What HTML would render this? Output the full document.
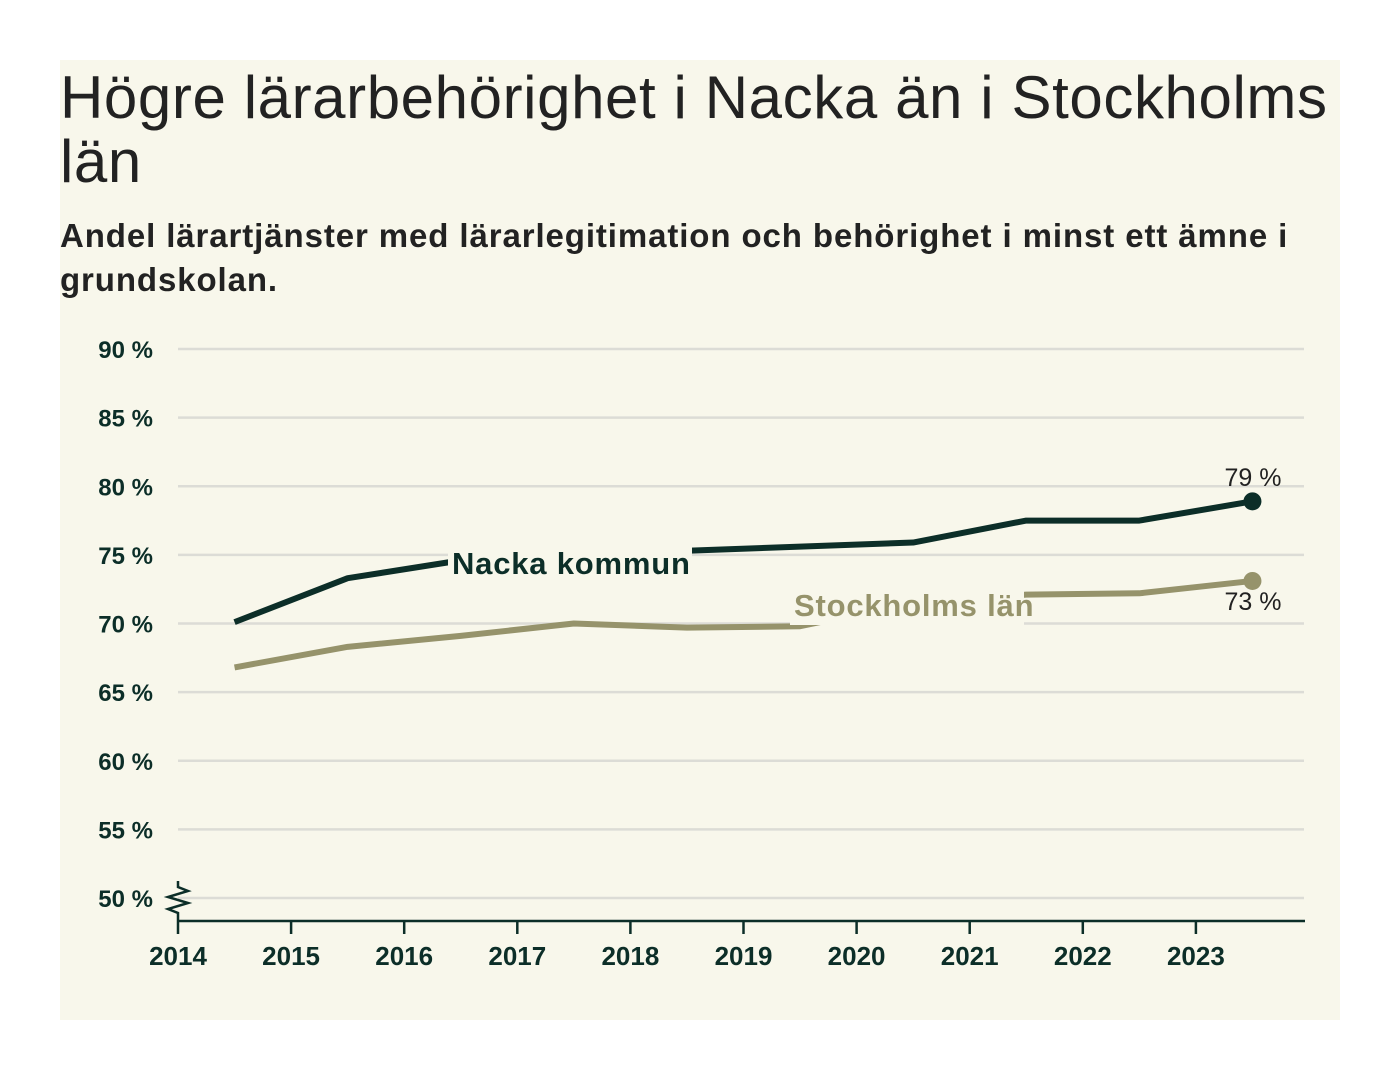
<!DOCTYPE html>
<html><head><meta charset="utf-8"><style>
body{margin:0;background:#fff;width:1400px;height:1080px;position:relative;font-family:"Liberation Sans",sans-serif;}
#panel{position:absolute;left:60px;top:60px;width:1280px;height:960px;background:#f8f7eb;}
h1{position:absolute;left:60px;top:66px;margin:0;font-size:60px;font-weight:normal;line-height:64px;color:#222;width:1290px;letter-spacing:0.6px}
h2{position:absolute;left:60px;top:214px;margin:0;font-size:33px;font-weight:bold;line-height:44px;color:#222;width:1270px;letter-spacing:0.9px}
svg{position:absolute;left:0;top:0}
</style></head><body>
<div id="panel"></div>
<h1>Högre lärarbehörighet i Nacka än i Stockholms län</h1>
<h2>Andel lärartjänster med lärarlegitimation och behörighet i minst ett ämne i grundskolan.</h2>
<svg id="c" width="1400" height="1080"></svg>
<script>
const years=[2014.5,2015.5,2016.5,2017.5,2018.5,2019.5,2020.5,2021.5,2022.5,2023.5];
const nacka=[70.1,73.3,74.6,75.0,75.3,75.6,75.9,77.5,77.5,78.9];
const sthlm=[66.8,68.3,69.1,70.0,69.7,69.8,71.5,72.1,72.2,73.1];
const yTicks=[50,55,60,65,70,75,80,85,90];
const xTicks=[2014,2015,2016,2017,2018,2019,2020,2021,2022,2023];
const NS="http://www.w3.org/2000/svg",svg=document.getElementById('c');
const x=v=>178+(v-2014)*113.1, y=v=>898-(v-50)*13.725;
function mk(t,a,p){const e=document.createElementNS(NS,t);for(const k in a)e.setAttribute(k,a[k]);(p||svg).appendChild(e);return e;}
yTicks.forEach(t=>{
 const g=mk('line',{x1:178,x2:1304,y1:y(t),y2:y(t),stroke:'#dcdcd6','stroke-width':2.5});
 
 
 const l=mk('text',{x:153,y:y(t)+9,'text-anchor':'end','font-size':24,fill:'#0c2e28','font-weight':'bold'});l.textContent=t+' %';
 
 
});
const ax=mk('line',{x1:178,x2:1305,y1:921,y2:921,stroke:'#0c2e28','stroke-width':2.5});


const zz=mk('polyline',{points:'178,881 178,887 188,891 168,897 188,903 168,909 178,913 178,921',fill:'none',stroke:'#0c2e28','stroke-width':2.5});


xTicks.forEach(t=>{
 const tk=mk('line',{x1:x(t),x2:x(t),y1:921,y2:934,stroke:'#0c2e28','stroke-width':2.5});
 
 
 const l=mk('text',{x:x(t),y:965,'text-anchor':'middle','font-size':26,fill:'#0c2e28','font-weight':'bold'});l.textContent=t;
 
 
});
function series(vals,col,name){
 const p=mk('polyline',{points:years.map((v,i)=>x(v)+','+y(vals[i])).join(' '),fill:'none',stroke:col,'stroke-width':6,'stroke-linejoin':'round'});
 
 
 const d=mk('circle',{cx:x(years[years.length-1]),cy:y(vals[vals.length-1]),r:9,fill:col});
 
 
}
series(sthlm,'#96936b','stockholm');
series(nacka,'#0c2e28','nacka');
function lab(txt,xx,yy,col,name,bg){
 if(bg){const r=mk('rect',{x:xx-4,y:yy-27,width:bg,height:36,fill:'#f8f7eb'});}
 const t=mk('text',{x:xx,y:yy,'font-size':31,'font-weight':'bold',fill:col,'letter-spacing':0.8});t.textContent=txt;
 
 
}
lab('Nacka kommun',452,574,'#0c2e28','nacka-label',244);
lab('Stockholms län',794,616,'#96936b','stockholm-label',234);
const e1=mk('text',{x:1253,y:486,'text-anchor':'middle','font-size':25,fill:'#222'});e1.textContent=nacka[nacka.length-1].toFixed(0)+' %';


const e2=mk('text',{x:1253,y:610,'text-anchor':'middle','font-size':25,fill:'#222'});e2.textContent=sthlm[sthlm.length-1].toFixed(0)+' %';


</script>
</body></html>
